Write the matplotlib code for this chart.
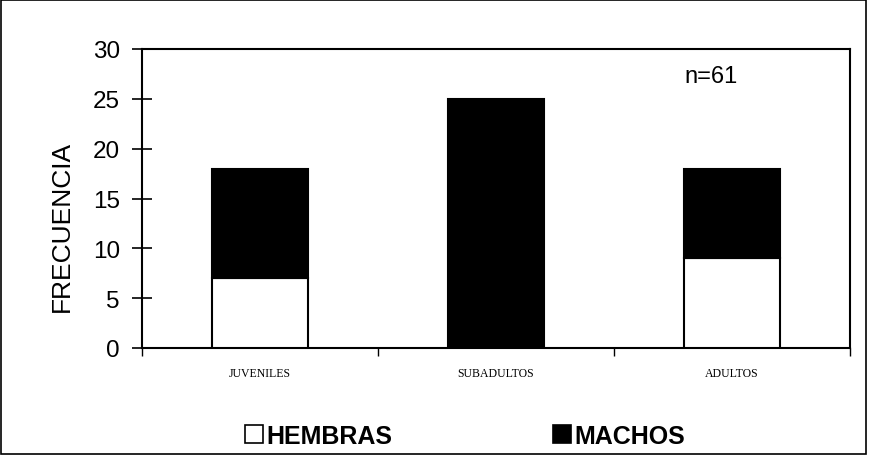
import matplotlib
matplotlib.use("Agg")
import matplotlib.pyplot as plt
from matplotlib.patches import Patch, Rectangle

categories = ["JUVENILES", "SUBADULTOS", "ADULTOS"]
hembras = [7, 0, 9]
machos = [11, 25, 9]
series_labels = ["HEMBRAS", "MACHOS"]
yticks = [0, 5, 10, 15, 20, 25, 30]
note = "n=61"

plt.rcParams['font.family'] = ['Liberation Sans', 'DejaVu Sans']

fig = plt.figure(figsize=(8.69, 4.56), dpi=100)
ax = fig.add_axes([142/869, 1-349/456, (850-142)/869, (349-50)/456])

x = [i + 0.5 for i in range(len(categories))]
w = 0.41
ax.bar(x, hembras, width=w, color='white', edgecolor='black', linewidth=1.5, zorder=3)
ax.bar(x, machos, width=w, bottom=hembras, color='black', edgecolor='black', linewidth=1.5, zorder=3)

ax.set_xlim(0, 3)
ax.set_ylim(0, 30)
ax.set_yticks(yticks)
ax.tick_params(axis='y', direction='inout', length=13.7, width=1.2, labelsize=17.5, pad=9)
ax.set_xticks([0, 1, 2, 3])
ax.set_xticklabels([])
ax.tick_params(axis='x', which='major', direction='out', length=6, width=1)
ax.set_xticks(x, minor=True)
ax.set_xticklabels(categories, minor=True, fontfamily='Liberation Serif', fontsize=8.5)
ax.tick_params(axis='x', which='minor', length=0, pad=14)
for s in ax.spines.values():
    s.set_linewidth(1.5)

ax.set_ylabel("FRECUENCIA", fontsize=19)
ax.yaxis.set_label_coords((74-142)/708, (349-226)/299)
ax.text(2.41, 27.3, note, fontsize=17, ha='center', va='center')

handles = [Patch(facecolor='white', edgecolor='black', linewidth=1.2),
           Patch(facecolor='black', edgecolor='black', linewidth=1.2)]
fig.legend(handles, series_labels, loc='center', bbox_to_anchor=(465/869, 1-437/456),
           ncol=2, frameon=False, handlelength=0.72, handleheight=0.72, handletextpad=0.15,
           columnspacing=6.4, prop={'weight': 'bold', 'size': 18})

fig.patches.append(Rectangle((0.0015, 0.003), 0.995, 0.994, transform=fig.transFigure,
                             fill=False, edgecolor='black', linewidth=1.2))

fig.savefig("out.png", dpi=100)
